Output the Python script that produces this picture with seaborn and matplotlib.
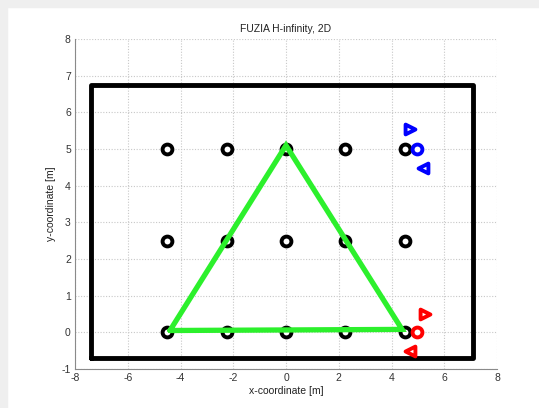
import matplotlib
matplotlib.use("Agg")
import matplotlib.pyplot as plt
import seaborn as sns
import pandas as pd
from matplotlib.patches import Rectangle

sns.set_style("white")
plt.rcParams['font.family'] = ['Liberation Sans', 'DejaVu Sans']
plt.rcParams['axes.unicode_minus'] = False

# Data
grid_x = [-4.5, -2.25, 0, 2.25, 4.5]
grid_y = [0, 2.5, 5]
boundary_x = [-7.4, 7.1, 7.1, -7.4, -7.4]
boundary_y = [-0.7, -0.7, 6.75, 6.75, -0.7]
tri_x = [-4.4, 0.0, 4.4, -4.4]
tri_y = [0.05, 5.1, 0.08, 0.05]
blue_x = [4.72, 4.97, 5.2]
blue_y = [5.55, 5.0, 4.48]
red_x = [5.27, 4.95, 4.72]
red_y = [0.5, 0.0, -0.52]
markers_seq = ['>', 'o', '<']
xticks = list(range(-8, 9, 2))
yticks = list(range(-1, 9))

fig = plt.figure(figsize=(5.39, 4.08), dpi=100)
fig.patches.append(Rectangle((0, 0), 1, 1, transform=fig.transFigure, color='white', zorder=-2))
fig.patches.append(Rectangle((0, 1 - 7/408), 1, 7/408, transform=fig.transFigure, color='#efefef', zorder=-1))
fig.patches.append(Rectangle((0, 0), 7/539, 1, transform=fig.transFigure, color='#efefef', zorder=-1))

ax = fig.add_axes([75/539, 39/408, 422/539, 330/408])

pts = pd.DataFrame([(x, y) for y in grid_y for x in grid_x], columns=['x', 'y'])
sns.scatterplot(data=pts, x='x', y='y', ax=ax, marker='o', s=50, facecolor='white',
                edgecolor='black', linewidth=2.8, zorder=3, legend=False)

bnd = pd.DataFrame({'x': boundary_x, 'y': boundary_y})
sns.lineplot(data=bnd, x='x', y='y', sort=False, estimator=None, ax=ax, color='black', lw=3.5, zorder=2)

tri = pd.DataFrame({'x': tri_x, 'y': tri_y})
sns.lineplot(data=tri, x='x', y='y', sort=False, estimator=None, ax=ax, color='#2cf02c', lw=3.8, zorder=4,
             solid_joinstyle='miter')

for xs, ys, c in [(blue_x, blue_y, '#0000ff'), (red_x, red_y, '#ff0000')]:
    for x, y, m in zip(xs, ys, markers_seq):
        sns.scatterplot(x=[x], y=[y], ax=ax, marker=m, s=50, facecolor='white', edgecolor=c,
                        linewidth=2.8, zorder=5, legend=False)

ax.set_xlim(-8, 8)
ax.set_ylim(-1, 8)
ax.set_xticks(xticks)
ax.set_yticks(yticks)
ax.grid(True, color='#c8c8c8', linestyle=(0, (1, 1.5)), linewidth=0.8)
for s in ['top', 'right']:
    ax.spines[s].set_visible(False)
for s in ['left', 'bottom']:
    ax.spines[s].set_color('#8a8a8a')
    ax.spines[s].set_linewidth(0.8)
ax.tick_params(direction='in', length=3, width=0.6, color='#8a8a8a', labelsize=7.5, labelcolor='#333333', pad=3)
ax.set_xlabel('x-coordinate [m]', fontsize=7.5, color='#222222', labelpad=2)
ax.set_ylabel('y-coordinate [m]', fontsize=7.5, color='#222222', labelpad=4)
ax.set_title('FUZIA H-infinity, 2D', fontsize=7.5, color='#222222', pad=5)

fig.savefig('out.png', dpi=100)
